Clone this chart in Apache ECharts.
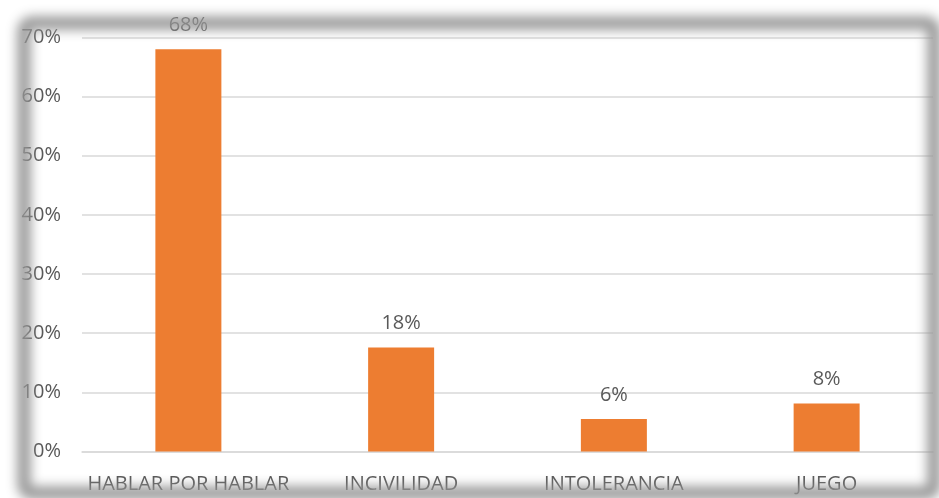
<!DOCTYPE html>
<html>
<head>
<meta charset="utf-8">
<script src="https://cdn.jsdelivr.net/npm/echarts@6/dist/echarts.min.js"></script>
<style>
    html, body { margin: 0; padding: 0; background: #fff; }
    #chart { width: 939px; height: 498px; }
</style>
</head>
<body>
<div id="chart"></div>
<script>
    // datos
    var categorias = ['HABLAR POR HABLAR', 'INCIVILIDAD', 'INTOLERANCIA', 'JUEGO'];
    var valores = [0.68, 0.176, 0.055, 0.081];
    var ticksY = [0, 0.1, 0.2, 0.3, 0.4, 0.5, 0.6, 0.7];

    var gris = '#595959';
    var fuente = '"Open Sans", sans-serif';

    function pct(v) {
        return Math.round(v * 100) + '%';
    }

    var myChart = echarts.init(document.getElementById('chart'));

    myChart.setOption({
        backgroundColor: '#fff',
        animation: false,
        grid: { left: 82, right: 6, top: 37.5, bottom: 46.5 },
        xAxis: {
            type: 'category',
            data: categorias,
            axisTick: { show: false },
            axisLine: { lineStyle: { color: '#d9d9d9', width: 1.5 } },
            axisLabel: { color: gris, fontSize: 20, fontFamily: fuente, margin: 23, interval: 0 }
        },
        yAxis: {
            type: 'value',
            min: ticksY[0],
            max: ticksY[ticksY.length - 1],
            interval: 0.1,
            axisLine: { show: false },
            axisTick: { show: false },
            splitLine: { lineStyle: { color: '#d9d9d9', width: 1.5 } },
            axisLabel: {
                color: gris, fontSize: 20, fontFamily: fuente, margin: 21,
                formatter: function (v) { return pct(v); }
            }
        },
        series: [{
            type: 'bar',
            data: valores,
            barWidth: 66,
            itemStyle: { color: '#ED7D31' },
            label: {
                show: true,
                position: 'top',
                distance: 14,
                color: gris,
                fontSize: 20,
                fontFamily: fuente,
                formatter: function (p) { return pct(p.value); }
            }
        }],
        // marco con sombra de la imagen original (solo se ve la sombra)
        graphic: [{
            type: 'rect',
            z: 1000,
            zlevel: 1,
            silent: true,
            shape: { x: 24 - 3000, y: 23, width: 910, height: 470, r: 8 },
            style: {
                fill: null,
                stroke: '#000',
                lineWidth: 13,
                shadowBlur: 12,
                shadowOffsetX: 3000,
                shadowColor: 'rgb(150,150,150)'
            }
        }]
    });
</script>
</body>
</html>
